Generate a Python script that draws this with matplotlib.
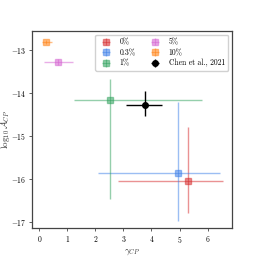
import numpy as np
import matplotlib
matplotlib.use("Agg")
import matplotlib.pyplot as plt

plt.rcParams["font.family"] = "serif"
plt.rcParams["font.serif"] = ["cmr10"]
plt.rcParams["mathtext.fontset"] = "cm"
plt.rcParams["axes.unicode_minus"] = False
plt.rcParams["axes.formatter.use_mathtext"] = True

labels = ["0%", "0.3%", "1%", "5%", "10%"]
colors = ["#d62728", "#3a7ee8", "#2ca05a", "#d45fd0", "#ff7f0e"]
gamma = [5.32, 4.95, 2.51, 0.68, 0.23]
gamma_lo = [2.79, 2.08, 1.24, 0.18, 0.11]
gamma_hi = [6.56, 6.43, 5.82, 1.19, 0.44]
logA = [-16.04, -15.85, -14.16, -13.28, -12.81]
logA_lo = [-16.79, -16.97, -16.46, -13.36, -12.86]
logA_hi = [-14.78, -14.20, -13.68, -13.20, -12.76]

chen_gamma, chen_lo, chen_hi = 3.78, 3.08, 4.38
chen_logA, chen_alo, chen_ahi = -14.29, -14.54, -13.95

fig, ax = plt.subplots(figsize=(2.58, 2.58), dpi=100)
for i in range(len(labels)):
    xerr = [[gamma[i] - gamma_lo[i]], [gamma_hi[i] - gamma[i]]]
    yerr = [[logA[i] - logA_lo[i]], [logA_hi[i] - logA[i]]]
    ax.errorbar(gamma[i], logA[i], xerr=xerr, yerr=yerr, fmt="s",
                color=colors[i], alpha=0.5, ms=5, lw=1, capsize=0,
                label=labels[i])
ax.errorbar(chen_gamma, chen_logA,
            xerr=[[chen_gamma - chen_lo], [chen_hi - chen_gamma]],
            yerr=[[chen_logA - chen_alo], [chen_ahi - chen_logA]],
            fmt="o", color="black", ms=4, lw=1, capsize=0,
            label="Chen et al., 2021")

ax.set_xlim(-0.26, 6.87)
ax.set_ylim(-17.14, -12.56)
ax.set_xticks(range(0, 7))
ax.set_yticks([-17, -16, -15, -14, -13])
ax.tick_params(labelsize=5.5, length=2, width=0.6, pad=2, colors="#444444", labelcolor="black")
for s in ax.spines.values():
    s.set_color("#444444")
    s.set_linewidth(0.9)
ax.set_xlabel(r"$\gamma_{CP}$", fontsize=6.5, color="#333333", labelpad=2)
ax.set_ylabel(r"$\log_{10}\mathcal{A}_{CP}$", fontsize=6.5, color="#333333")
ax.yaxis.set_label_coords(-0.1, 0.5)
ax.legend(loc="upper right", ncol=2, fontsize=5.5, framealpha=0.9,
          borderpad=0.4, labelspacing=0.3, columnspacing=1.5, handlelength=2.0)

fig.subplots_adjust(left=0.124, right=0.899, top=0.88, bottom=0.116)
fig.savefig("out.png", dpi=100)
